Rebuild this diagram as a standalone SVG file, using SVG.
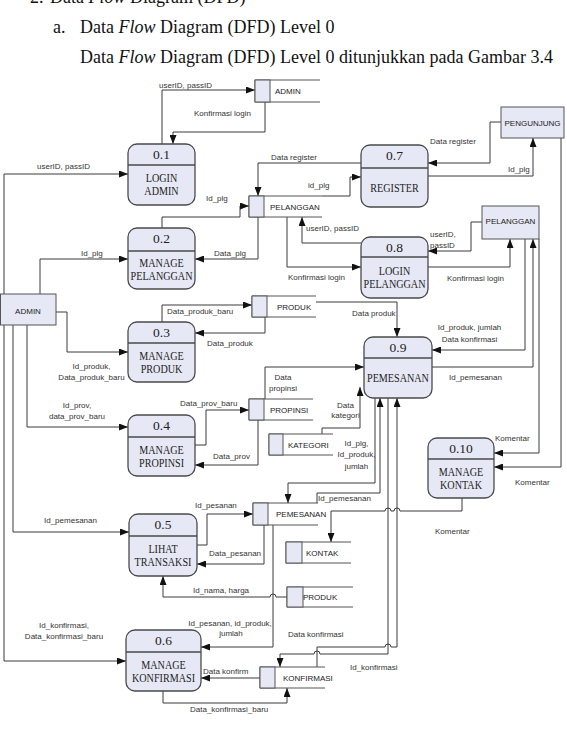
<svg xmlns="http://www.w3.org/2000/svg" width="567" height="743" viewBox="0 0 567 743">
<style>
.hd{font-family:"Liberation Serif","Times New Roman",serif;font-size:18px;fill:#111}
.proc{fill:#E6E9F5;stroke:#4a4a4a;stroke-width:1.3}
.div{stroke:#4a4a4a;stroke-width:1.3}
.num{font-family:"Liberation Serif","Times New Roman",serif;font-size:13.5px;fill:#222;text-anchor:middle}
.pn{font-family:"Liberation Serif","Times New Roman",serif;font-size:13px;fill:#222;text-anchor:middle}
.ent{fill:#E6E9F5;stroke:#555;stroke-width:1}
.store{fill:none;stroke:#555;stroke-width:1}
.sbox{fill:#E6E9F5;stroke:#555;stroke-width:1}
.st{font-family:"Liberation Sans",Arial,sans-serif;font-size:8px;fill:#222}
.lbl{font-family:"Liberation Sans",Arial,sans-serif;font-size:8px;fill:#333}
.c{text-anchor:middle}
.ln{fill:none;stroke:#3a3a3a;stroke-width:1;marker-end:url(#a)}
.ln0{fill:none;stroke:#3a3a3a;stroke-width:1}
</style>
<defs>
<marker id="a" markerWidth="9" markerHeight="7" refX="9" refY="3.5" orient="auto" markerUnits="userSpaceOnUse"><path d="M0 0 L9 3.5 L0 7z" fill="#111"/></marker>
</defs>
<rect width="567" height="743" fill="#fff"/>
<g id="header">
<text class="hd" x="30" y="3">2.</text>
<text class="hd" x="50" y="3">Data <tspan font-style="italic">Flow</tspan> Diagram (DFD)</text>
<text class="hd" x="53" y="33">a.</text>
<text class="hd" x="80" y="33">Data <tspan font-style="italic">Flow</tspan> Diagram (DFD) Level 0</text>
<text class="hd" x="80" y="63">Data <tspan font-style="italic">Flow</tspan> Diagram (DFD) Level 0 ditunjukkan pada Gambar 3.4</text>
</g>
<g id="connectors">
<path class="ln" d="M162 144 V90 H255"/>
<text class="lbl" x="159" y="87.5">userID, passID</text>
<path class="ln" d="M265 102 V132 H173 V144"/>
<text class="lbl" x="194" y="116">Konfirmasi login</text>
<path class="ln" d="M4 294 V174 H128"/>
<text class="lbl" x="37" y="169">userID, passID</text>
<path class="ln" d="M40 294 V259 H128"/>
<text class="lbl" x="81" y="256">Id_plg</text>
<path class="ln" d="M162 228 V217 H240 V206 H249"/>
<text class="lbl" x="206" y="201">Id_plg</text>
<path class="ln" d="M258 217 V259 H195"/>
<text class="lbl" x="214" y="256">Data_plg</text>
<path class="ln" d="M361 163 H258 V196"/>
<text class="lbl" x="271" y="159.5">Data register</text>
<path class="ln" d="M322 196 H350 V177 H361"/>
<text class="lbl" x="308" y="188">id_plg</text>
<path class="ln" d="M361 243 H302 V217"/>
<text class="lbl" x="306" y="231">userID, passID</text>
<path class="ln" d="M287 217 V267 H361"/>
<text class="lbl" x="288" y="280">Konfirmasi login</text>
<path class="ln" d="M501 122 H490 V163 H428"/>
<text class="lbl" x="430" y="144">Data register</text>
<path class="ln" d="M428 176 H533 V138"/>
<text class="lbl" x="508" y="172">Id_plg</text>
<path class="ln" d="M482 222 H471 V251 H428"/>
<text class="lbl" x="430" y="237">userID,</text>
<text class="lbl" x="430" y="248">passID</text>
<path class="ln" d="M428 267 H510 V239"/>
<text class="lbl" x="447" y="280.5">Konfirmasi login</text>
<path class="ln" d="M525 239 V350 H432"/>
<text class="lbl c" x="469.5" y="330">Id_produk, jumlah</text>
<text class="lbl c" x="469.5" y="341.5">Data konfirmasi</text>
<path class="ln" d="M432 367 H533 V239"/>
<text class="lbl" x="449" y="380">Id_pemesanan</text>
<path class="ln" d="M539 239 V453 H494"/>
<text class="lbl" x="495" y="441">Komentar</text>
<path class="ln" d="M561 138 V467 H494"/>
<text class="lbl" x="515" y="485">Komentar</text>
<path class="ln" d="M462 498 V511 H400 A3 3 0 0 0 394 511 H391 A3 3 0 0 0 385 511 H331 V542"/>
<text class="lbl" x="435" y="534">Komentar</text>
<path class="ln" d="M162 322 V305 H252"/>
<text class="lbl" x="167" y="314">Data_produk_baru</text>
<path class="ln" d="M265 317 V333 H195"/>
<text class="lbl" x="207" y="346">Data_produk</text>
<path class="ln" d="M56 312 H67 V352 H128"/>
<text class="lbl c" x="91.5" y="369">Id_produk,</text>
<text class="lbl c" x="91.5" y="380">Data_produk_baru</text>
<path class="ln" d="M316 302 H397 V337"/>
<text class="lbl" x="352" y="316">Data produk</text>
<path class="ln" d="M27 325 V427 H128"/>
<text class="lbl c" x="77" y="408">Id_prov,</text>
<text class="lbl c" x="77" y="419">data_prov_baru</text>
<path class="ln" d="M195 445 H206 V410 H249"/>
<text class="lbl" x="180" y="406">Data_prov_baru</text>
<path class="ln" d="M258 420 V465 H195"/>
<text class="lbl" x="213" y="459">Data_prov</text>
<path class="ln" d="M265 399 V367 H364"/>
<text class="lbl c" x="283" y="380">Data</text>
<text class="lbl c" x="283" y="390.5">propinsi</text>
<path class="ln" d="M322 434 V428 H360 V387"/>
<text class="lbl c" x="345.5" y="407.5">Data</text>
<text class="lbl c" x="345.5" y="418">kategori</text>
<path class="ln" d="M375 398 V483 H288 V503"/>
<text class="lbl c" x="356.5" y="446">Id_plg,</text>
<text class="lbl c" x="356.5" y="457">Id_produk,</text>
<text class="lbl c" x="356.5" y="469">jumlah</text>
<path class="ln" d="M317 503 V493 H380 V398"/>
<text class="lbl" x="318" y="501">Id_pemesanan</text>
<path class="ln" d="M388 398 V654 H320 A3 3 0 0 0 314 654 H280 V667"/>
<text class="lbl" x="288" y="637">Data konfirmasi</text>
<path class="ln" d="M317 667 V647 H385 A3 3 0 0 1 391 647 H397 V398"/>
<text class="lbl" x="350" y="670">Id_konfirmasi</text>
<path class="ln" d="M13 325 V532 H129"/>
<text class="lbl" x="44" y="523">Id_pemesanan</text>
<path class="ln" d="M197 545 H207 V514 H253"/>
<text class="lbl" x="195" y="508">Id_pesanan</text>
<path class="ln" d="M264 525 V564 H197"/>
<text class="lbl" x="209" y="556">Data_pesanan</text>
<path class="ln" d="M287 597 H276 A3 3 0 0 0 270 597 H163 V576"/>
<text class="lbl" x="193" y="593">Id_nama, harga</text>
<path class="ln" d="M273 525 V647 H201"/>
<text class="lbl c" x="230" y="626">Id_pesanan, id_produk,</text>
<text class="lbl c" x="231" y="636">jumlah</text>
<path class="ln" d="M4 325 V661 H126"/>
<text class="lbl c" x="64" y="628">Id_konfirmasi,</text>
<text class="lbl c" x="64" y="639">Data_konfirmasi_baru</text>
<path class="ln" d="M260 678 H201"/>
<text class="lbl" x="203" y="674">Data konfirm</text>
<path class="ln" d="M163 691 V703 H287 V688"/>
<text class="lbl" x="190" y="712">Data_konfirmasi_baru</text>
</g>
<g id="p01"><rect class="proc" x="128" y="144" width="67" height="61" rx="9"/><line class="div" x1="128" y1="165" x2="195" y2="165"/><text class="num" x="161.5" y="159">0.1</text><text class="pn" transform="translate(161.5 0) scale(0.78 1)" y="182.5">LOGIN</text><text class="pn" transform="translate(161.5 0) scale(0.78 1)" y="195.5">ADMIN</text></g>
<g id="p02"><rect class="proc" x="128" y="228" width="67" height="61" rx="9"/><line class="div" x1="128" y1="251" x2="195" y2="251"/><text class="num" x="161.5" y="243">0.2</text><text class="pn" transform="translate(161.5 0) scale(0.78 1)" y="267.5">MANAGE</text><text class="pn" transform="translate(161.5 0) scale(0.78 1)" y="280.5">PELANGGAN</text></g>
<g id="p03"><rect class="proc" x="128" y="322" width="67" height="60" rx="9"/><line class="div" x1="128" y1="343" x2="195" y2="343"/><text class="num" x="161.5" y="337">0.3</text><text class="pn" transform="translate(161.5 0) scale(0.78 1)" y="360">MANAGE</text><text class="pn" transform="translate(161.5 0) scale(0.78 1)" y="373">PRODUK</text></g>
<g id="p04"><rect class="proc" x="128" y="415" width="67" height="61" rx="9"/><line class="div" x1="128" y1="437" x2="195" y2="437"/><text class="num" x="161.5" y="430">0.4</text><text class="pn" transform="translate(161.5 0) scale(0.78 1)" y="454">MANAGE</text><text class="pn" transform="translate(161.5 0) scale(0.78 1)" y="467">PROPINSI</text></g>
<g id="p05"><rect class="proc" x="129" y="514" width="68" height="62" rx="9"/><line class="div" x1="129" y1="536" x2="197" y2="536"/><text class="num" x="163" y="529">0.5</text><text class="pn" transform="translate(163 0) scale(0.78 1)" y="553.5">LIHAT</text><text class="pn" transform="translate(163 0) scale(0.78 1)" y="566.5">TRANSAKSI</text></g>
<g id="p06"><rect class="proc" x="126" y="630" width="75" height="61" rx="9"/><line class="div" x1="126" y1="652" x2="201" y2="652"/><text class="num" x="163.5" y="645">0.6</text><text class="pn" transform="translate(163.5 0) scale(0.78 1)" y="669">MANAGE</text><text class="pn" transform="translate(163.5 0) scale(0.78 1)" y="682">KONFIRMASI</text></g>
<g id="p07"><rect class="proc" x="361" y="145" width="67" height="62" rx="9"/><line class="div" x1="361" y1="168" x2="428" y2="168"/><text class="num" x="394.5" y="160">0.7</text><text class="pn" transform="translate(394.5 0) scale(0.78 1)" y="192">REGISTER</text></g>
<g id="p08"><rect class="proc" x="361" y="237" width="67" height="61" rx="9"/><line class="div" x1="361" y1="257" x2="428" y2="257"/><text class="num" x="394.5" y="252">0.8</text><text class="pn" transform="translate(394.5 0) scale(0.78 1)" y="275">LOGIN</text><text class="pn" transform="translate(394.5 0) scale(0.78 1)" y="288">PELANGGAN</text></g>
<g id="p09"><rect class="proc" x="364" y="337" width="68" height="61" rx="9"/><line class="div" x1="364" y1="358" x2="432" y2="358"/><text class="num" x="398" y="352">0.9</text><text class="pn" transform="translate(398 0) scale(0.78 1)" y="382.5">PEMESANAN</text></g>
<g id="p10"><rect class="proc" x="428" y="438" width="66" height="60" rx="9"/><line class="div" x1="428" y1="459" x2="494" y2="459"/><text class="num" x="461" y="453">0.10</text><text class="pn" transform="translate(461 0) scale(0.78 1)" y="476">MANAGE</text><text class="pn" transform="translate(461 0) scale(0.78 1)" y="489">KONTAK</text></g>
<g id="e-admin"><rect class="ent" x="0.5" y="294" width="55.5" height="31"/><text class="st c" x="28" y="314">ADMIN</text></g>
<g id="e-pengunjung"><rect class="ent" x="501" y="107" width="63" height="31"/><text class="st c" x="532.5" y="126">PENGUNJUNG</text></g>
<g id="e-pelanggan"><rect class="ent" x="482" y="206" width="57" height="33"/><text class="st c" x="510.5" y="224">PELANGGAN</text></g>
<g id="s-admin"><path class="store" d="M320 80 H255 V102 H320"/><rect class="sbox" x="255" y="80" width="15" height="22"/><text class="st" x="275" y="94">ADMIN</text></g>
<g id="s-pelanggan"><path class="store" d="M322 196 H249 V217 H322"/><rect class="sbox" x="249" y="196" width="15" height="21"/><text class="st" x="270" y="209.5">PELANGGAN</text></g>
<g id="s-produk1"><path class="store" d="M316 296 H252 V317 H316"/><rect class="sbox" x="252" y="296" width="15" height="21"/><text class="st" x="277" y="309.5">PRODUK</text></g>
<g id="s-propinsi"><path class="store" d="M313 399 H249 V420 H313"/><rect class="sbox" x="249" y="399" width="15" height="21"/><text class="st" x="270" y="413">PROPINSI</text></g>
<g id="s-kategori"><path class="store" d="M333 434 H269 V455 H333"/><rect class="sbox" x="269" y="434" width="14" height="21"/><text class="st" x="288" y="447.5">KATEGORI</text></g>
<g id="s-pemesanan"><path class="store" d="M318 503 H253 V525 H318"/><rect class="sbox" x="253" y="503" width="15" height="22"/><text class="st" x="276" y="517">PEMESANAN</text></g>
<g id="s-kontak"><path class="store" d="M351 542 H286 V563 H351"/><rect class="sbox" x="286" y="542" width="16" height="21"/><text class="st" x="306" y="555.5">KONTAK</text></g>
<g id="s-produk2"><path class="store" d="M353 587 H287 V607 H353"/><rect class="sbox" x="287" y="587" width="16" height="20"/><text class="st" x="303" y="600">PRODUK</text></g>
<g id="s-konfirmasi"><path class="store" d="M325 667 H260 V688 H325"/><rect class="sbox" x="260" y="667" width="15" height="21"/><text class="st" x="283" y="680.5">KONFIRMASI</text></g>
</svg>
